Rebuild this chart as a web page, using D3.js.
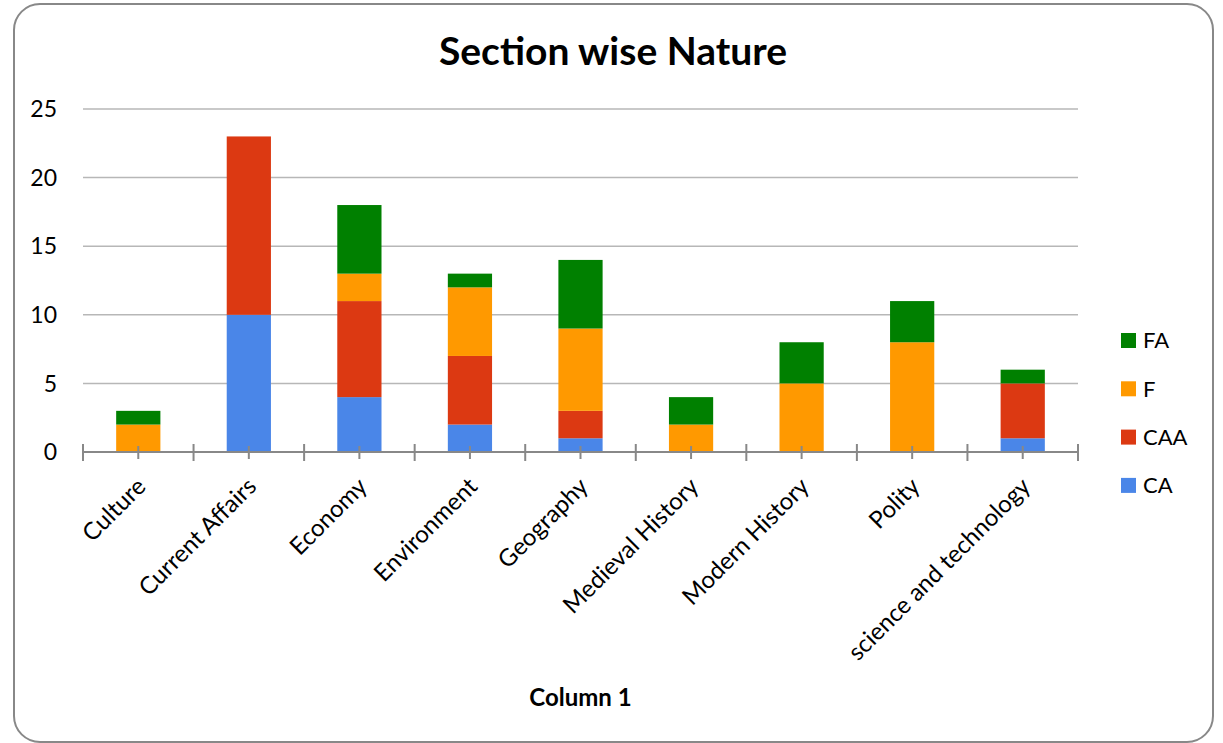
<!DOCTYPE html>
<html>
<head>
<meta charset="utf-8">
<script src="https://cdn.jsdelivr.net/npm/d3@7"></script>
<style>
  html, body { margin: 0; padding: 0; background: #fff; }
  svg { display: block; }
  text { font-family: Lato, "Open Sans", sans-serif; fill: #000; }
</style>
</head>
<body>
<svg id="chart" width="1223" height="743"></svg>
<script>
const categories = ["Culture", "Current Affairs", "Economy", "Environment", "Geography", "Medieval History", "Modern History", "Polity", "science and technology"];
const seriesNames = ["CA", "CAA", "F", "FA"];
const CA  = [0, 10, 4, 2, 1, 0, 0, 0, 1];
const CAA = [0, 13, 7, 5, 2, 0, 0, 0, 4];
const F   = [2, 0, 2, 5, 6, 2, 5, 8, 0];
const FA  = [1, 0, 5, 1, 5, 2, 3, 3, 1];
const yTicks = [0, 5, 10, 15, 20, 25];
const colors = {CA: "#4a86e8", CAA: "#dc3912", F: "#ff9900", FA: "#008000"};

const seriesValues = {CA, CAA, F, FA};
const table = categories.map((c, i) => {
  const row = {category: c};
  seriesNames.forEach(s => row[s] = seriesValues[s][i]);
  return row;
});

const svg = d3.select("#chart");
const plotLeft = 83, plotRight = 1078, plotTop = 109, plotBottom = 452;

// outer border
svg.append("rect")
  .attr("x", 14).attr("y", 4).attr("width", 1199).attr("height", 738)
  .attr("rx", 26).attr("ry", 26)
  .attr("fill", "#fff").attr("stroke", "#888").attr("stroke-width", 2);

const x = d3.scaleBand().domain(categories).range([plotLeft, plotRight]).paddingInner(0).paddingOuter(0);
const y = d3.scaleLinear().domain([0, 25]).range([plotBottom, plotTop]);

// gridlines
svg.append("g").selectAll("line").data(yTicks.filter(t => t > 0)).join("line")
  .attr("x1", plotLeft).attr("x2", plotRight)
  .attr("y1", d => y(d)).attr("y2", d => y(d))
  .attr("stroke", "#b7b7b7").attr("stroke-width", 1.5);

// y labels
svg.append("g").selectAll("text").data(yTicks).join("text")
  .attr("x", 57).attr("y", d => y(d)).attr("dy", "0.36em")
  .attr("text-anchor", "end").attr("font-size", 23).text(d => d);

// stacked bars
const stack = d3.stack().keys(seriesNames)(table);
const bw = x.bandwidth() * 0.4;
svg.append("g").selectAll("g").data(stack).join("g")
  .attr("fill", d => colors[d.key])
  .selectAll("rect").data(d => d.filter(p => p[1] - p[0] > 0)).join("rect")
  .attr("x", d => x(d.data.category) + (x.bandwidth() - bw) / 2)
  .attr("width", bw)
  .attr("y", d => y(d[1]))
  .attr("height", d => y(d[0]) - y(d[1]));

// x axis
const axis = svg.append("g");
axis.append("line").attr("x1", plotLeft).attr("x2", plotRight).attr("y1", plotBottom).attr("y2", plotBottom)
  .attr("stroke", "#888").attr("stroke-width", 2);
const bounds = categories.map(c => x(c)).concat([plotRight]);
axis.selectAll("line.major").data(bounds).join("line").attr("class", "major")
  .attr("x1", d => d).attr("x2", d => d).attr("y1", plotBottom - 8).attr("y2", plotBottom + 9)
  .attr("stroke", "#888").attr("stroke-width", 2);
axis.selectAll("line.minor").data(categories).join("line").attr("class", "minor")
  .attr("x1", d => x(d) + x.bandwidth() / 2).attr("x2", d => x(d) + x.bandwidth() / 2)
  .attr("y1", plotBottom - 6).attr("y2", plotBottom + 7)
  .attr("stroke", "#888").attr("stroke-width", 2);

// x labels
svg.append("g").selectAll("text").data(categories).join("text")
  .attr("text-anchor", "end").attr("font-size", 24)
  .attr("transform", d => `translate(${x(d) + x.bandwidth() / 2 + 9},${plotBottom + 36}) rotate(-45)`)
  .text(d => d);

// title
svg.append("text").attr("x", 613).attr("y", 65).attr("text-anchor", "middle")
  .attr("font-size", 39).attr("font-weight", "bold").text("Section wise Nature");

// x-axis title
svg.append("text").attr("x", (plotLeft + plotRight) / 2).attr("y", 706).attr("text-anchor", "middle")
  .attr("font-size", 24).attr("font-weight", "bold").text("Column 1");

// legend
const legendOrder = ["FA", "F", "CAA", "CA"];
const lg = svg.append("g").selectAll("g").data(legendOrder).join("g")
  .attr("transform", (d, i) => `translate(1121,${340.5 + i * 48.3})`);
lg.append("rect").attr("x", 0).attr("y", -7.5).attr("width", 15).attr("height", 15).attr("fill", d => colors[d]);
lg.append("text").attr("x", 22).attr("y", 0).attr("dy", "0.36em").attr("font-size", 22).text(d => d);
</script>
</body>
</html>
